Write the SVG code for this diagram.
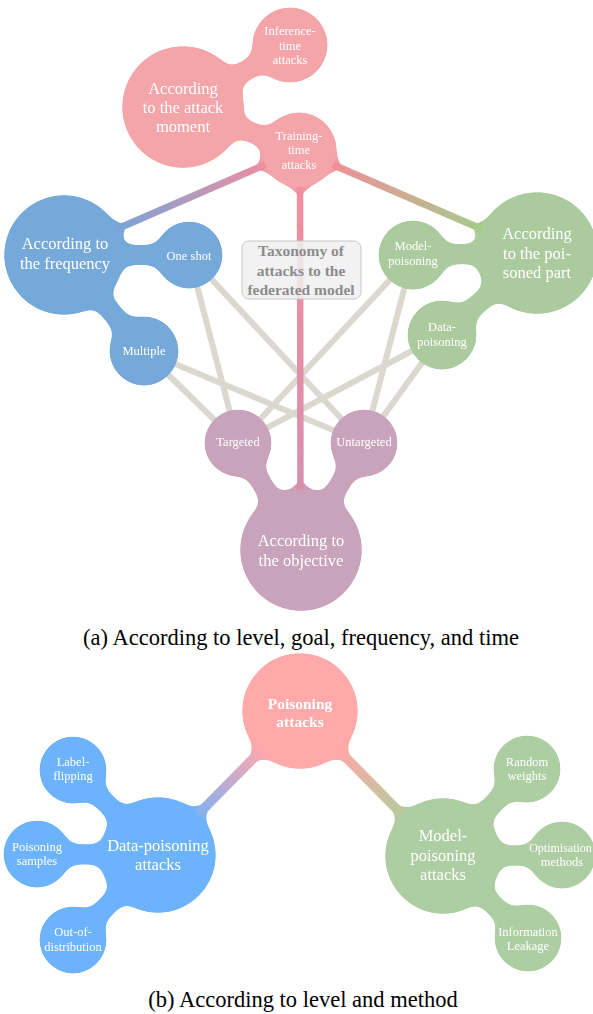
<svg xmlns="http://www.w3.org/2000/svg" width="593" height="1014" viewBox="0 0 593 1014">
<defs>
<style>
.t{font-family:"Liberation Serif","Times New Roman",serif;fill:#fff;text-anchor:middle}
.b{font-size:16.5px}
.s{font-size:12.5px}
.bd{font-weight:bold;font-size:15.5px}
.ttl{font-family:"Liberation Serif","Times New Roman",serif;font-weight:bold;font-size:15.5px;fill:#8c8c8c;text-anchor:middle}
.cap{font-family:"Liberation Serif","Times New Roman",serif;font-size:22.5px;fill:#000;text-anchor:middle}
.gc{stroke:#dbd8d0;stroke-width:6;stroke-linecap:round;fill:none}
.neck{stroke-width:18;stroke-linecap:butt;fill:none}
.stub{stroke-width:7;stroke-linecap:butt;fill:none}
.stub2{stroke-width:9;stroke-linecap:butt;fill:none}
.pk{fill:#f4a5a9}.pkn{stroke:#f4a5a9}
.bl{fill:#74a9da}.bln{stroke:#74a9da}
.gr{fill:#abcb9f}.grn{stroke:#abcb9f}
.pu{fill:#c9a3bb}.pun{stroke:#c9a3bb}
.pk2{fill:#ffa9aa}
.bl2{fill:#6db3fb}.bl2n{stroke:#6db3fb}
.gr2{fill:#adcda2}.gr2n{stroke:#adcda2}
</style>
<filter id="goo" filterUnits="userSpaceOnUse" x="-40" y="-40" width="680" height="1100" color-interpolation-filters="sRGB">
<feGaussianBlur in="SourceGraphic" stdDeviation="7" result="b"/>
<feColorMatrix in="b" type="matrix" values="1 0 0 0 0  0 1 0 0 0  0 0 1 0 0  0 0 0 24 -10" result="g"/>
<feComposite in="SourceGraphic" in2="g" operator="atop"/>
</filter>
<linearGradient id="gTF" gradientUnits="userSpaceOnUse" x1="265" y1="165" x2="118" y2="228">
<stop offset="0" stop-color="#ee8ea3"/><stop offset="1" stop-color="#7aa4d6"/>
</linearGradient>
<linearGradient id="gTP" gradientUnits="userSpaceOnUse" x1="333" y1="165" x2="482" y2="229">
<stop offset="0" stop-color="#ef8f98"/><stop offset="1" stop-color="#a6cb8c"/>
</linearGradient>
<linearGradient id="gTO" gradientUnits="userSpaceOnUse" x1="300" y1="187" x2="300" y2="490">
<stop offset="0" stop-color="#f28f9f"/><stop offset="1" stop-color="#d590ae"/>
</linearGradient>
<linearGradient id="gPD" gradientUnits="userSpaceOnUse" x1="260" y1="752" x2="198" y2="814">
<stop offset="0" stop-color="#f8a8b0"/><stop offset="1" stop-color="#86b0f0"/>
</linearGradient>
<linearGradient id="gPM" gradientUnits="userSpaceOnUse" x1="340" y1="752" x2="403" y2="815">
<stop offset="0" stop-color="#fca9a8"/><stop offset="1" stop-color="#b4cc9c"/>
</linearGradient>
</defs>

<rect width="593" height="1014" fill="#fff"/>

<g id="connectors">
<g id="gray-links" class="gc">
<line x1="189" y1="255" x2="238" y2="443"/>
<line x1="189" y1="255" x2="364" y2="443"/>
<line x1="144" y1="351" x2="238" y2="443"/>
<line x1="144" y1="351" x2="364" y2="443"/>
<line x1="413" y1="255" x2="238" y2="443"/>
<line x1="413" y1="255" x2="364" y2="443"/>
<line x1="442" y1="335" x2="238" y2="443"/>
<line x1="442" y1="335" x2="364" y2="443"/>
</g>
<line id="band-training-frequency" x1="299" y1="150" x2="64" y2="252" stroke="url(#gTF)" stroke-width="7"/>
<line id="band-training-poisoned" x1="299" y1="150" x2="537" y2="253" stroke="url(#gTP)" stroke-width="7"/>
<line id="band-training-objective" x1="300" y1="150" x2="300.5" y2="550" stroke="url(#gTO)" stroke-width="6.5"/>
<line id="band-poisoning-data" x1="300" y1="711" x2="158" y2="855" stroke="url(#gPD)" stroke-width="9.5"/>
<line id="band-poisoning-model" x1="300" y1="711" x2="443" y2="856" stroke="url(#gPM)" stroke-width="9.5"/>
</g>

<g id="cluster-moment" filter="url(#goo)">
<g id="necks-moment" class="neck pkn">
<line x1="183" y1="107" x2="290" y2="45"/>
<line x1="183" y1="107" x2="299" y2="150"/>
</g>
<g id="flares-training" class="stub">
<line x1="269.7" y1="162.7" x2="242.1" y2="174.7" stroke="url(#gTF)"/>
<line x1="328.4" y1="162.7" x2="355.9" y2="174.6" stroke="url(#gTP)"/>
<line x1="300" y1="182" x2="300" y2="212" stroke="url(#gTO)"/>
</g>
<g id="node-moment"><circle class="pk" cx="183" cy="107" r="60"/>
<text class="t b" x="183" y="94">According</text><text class="t b" x="183" y="113">to the attack</text><text class="t b" x="183" y="132">moment</text></g>
<g id="node-inference"><circle class="pk" cx="290" cy="45" r="37"/>
<text class="t s" x="290" y="35">Inference-</text><text class="t s" x="290" y="49.5">time</text><text class="t s" x="290" y="64">attacks</text></g>
<g id="node-training"><circle class="pk" cx="299" cy="150" r="37"/>
<text class="t s" x="299" y="139.5">Training-</text><text class="t s" x="299" y="154">time</text><text class="t s" x="299" y="168.5">attacks</text></g>
</g>

<g id="cluster-frequency" filter="url(#goo)">
<g id="necks-frequency" class="neck bln">
<line x1="64" y1="255" x2="189" y2="255"/>
<line x1="64" y1="255" x2="144" y2="351"/>
</g>
<line class="stub" x1="113.5" y1="230.5" x2="141" y2="218.6" stroke="url(#gTF)"/>
<g id="node-frequency"><circle class="bl" cx="64" cy="255" r="59"/>
<text class="t b" x="65" y="248.5">According to</text><text class="t b" x="65" y="268.5">the frequency</text></g>
<g id="node-oneshot"><circle class="bl" cx="189" cy="255" r="33"/>
<text class="t s" x="189" y="259.5">One shot</text></g>
<g id="node-multiple"><circle class="bl" cx="144" cy="351" r="34"/>
<text class="t s" x="144" y="354.5">Multiple</text></g>
</g>

<g id="cluster-poisoned" filter="url(#goo)">
<g id="necks-poisoned" class="neck grn">
<line x1="537" y1="253" x2="413" y2="255"/>
<line x1="537" y1="253" x2="442" y2="335"/>
</g>
<line class="stub" x1="486.5" y1="231.2" x2="459" y2="219.3" stroke="url(#gTP)"/>
<g id="node-poisoned"><circle class="gr" cx="537" cy="253" r="60"/>
<text class="t b" x="537" y="239">According</text><text class="t b" x="537" y="258.5">to the poi-</text><text class="t b" x="537" y="278">soned part</text></g>
<g id="node-model"><circle class="gr" cx="413" cy="255" r="34"/>
<text class="t s" x="413" y="250">Model-</text><text class="t s" x="413" y="265">poisoning</text></g>
<g id="node-data"><circle class="gr" cx="442" cy="335" r="34"/>
<text class="t s" x="442" y="330.5">Data-</text><text class="t s" x="442" y="346">poisoning</text></g>
</g>

<g id="cluster-objective" filter="url(#goo)">
<g id="necks-objective" class="neck pun">
<line x1="301" y1="550" x2="238" y2="443"/>
<line x1="301" y1="550" x2="364" y2="443"/>
</g>
<line class="stub" x1="300.5" y1="495" x2="300.5" y2="465" stroke="url(#gTO)"/>
<g id="node-objective"><circle class="pu" cx="301" cy="550" r="60"/>
<text class="t b" x="301" y="545.5">According to</text><text class="t b" x="301" y="565.5">the objective</text></g>
<g id="node-targeted"><circle class="pu" cx="238" cy="443" r="33"/>
<text class="t s" x="238" y="446">Targeted</text></g>
<g id="node-untargeted"><circle class="pu" cx="364" cy="443" r="33"/>
<text class="t s" x="364" y="446">Untargeted</text></g>
</g>

<g id="node-taxonomy">
<rect x="242" y="241" width="119" height="58" rx="7" fill="#f0f0f0" fill-opacity="0.85" stroke="#c6c6c6" stroke-width="1"/>
<text class="ttl" x="301" y="256">Taxonomy of</text><text class="ttl" x="301" y="275.5">attacks to the</text><text class="ttl" x="301" y="295">federated model</text>
</g>

<text class="cap" x="301" y="645">(a) According to level, goal, frequency, and time</text>

<g id="cluster-poisoning" filter="url(#goo)">
<g id="flares-poisoning" class="stub2">
<line x1="263.5" y1="748" x2="242.4" y2="769.4" stroke="url(#gPD)"/>
<line x1="336.5" y1="748" x2="357.6" y2="769.4" stroke="url(#gPM)"/>
</g>
<g id="node-poisoning">
<circle class="pk2" cx="300" cy="711" r="57"/>
<text class="t bd" x="300" y="708.5">Poisoning</text><text class="t bd" x="300" y="727">attacks</text>
</g>
</g>

<g id="cluster-datapoisoning" filter="url(#goo)">
<g id="necks-datapoisoning" class="neck bl2n">
<line x1="158" y1="855" x2="73" y2="770"/>
<line x1="158" y1="855" x2="37" y2="854"/>
<line x1="158" y1="855" x2="73" y2="940"/>
</g>
<line class="stub2" x1="194.5" y1="818" x2="215.6" y2="796.6" stroke="url(#gPD)"/>
<g id="node-datapoisoning"><circle class="bl2" cx="158" cy="855" r="57"/>
<text class="t b" x="158" y="851">Data-poisoning</text><text class="t b" x="158" y="870">attacks</text></g>
<g id="node-label"><circle class="bl2" cx="73" cy="770" r="33"/>
<text class="t s" x="73" y="765.5">Label-</text><text class="t s" x="73" y="780">flipping</text></g>
<g id="node-samples"><circle class="bl2" cx="37" cy="854" r="33"/>
<text class="t s" x="37" y="850.5">Poisoning</text><text class="t s" x="37" y="864.5">samples</text></g>
<g id="node-ood"><circle class="bl2" cx="73" cy="940" r="33"/>
<text class="t s" x="73" y="936">Out-of-</text><text class="t s" x="73" y="951">distribution</text></g>
</g>

<g id="cluster-modelpoisoning" filter="url(#goo)">
<g id="necks-modelpoisoning" class="neck gr2n">
<line x1="443" y1="856" x2="527" y2="769"/>
<line x1="443" y1="856" x2="562" y2="855"/>
<line x1="443" y1="856" x2="528" y2="938"/>
</g>
<line class="stub2" x1="406.5" y1="819" x2="385.4" y2="797.6" stroke="url(#gPM)"/>
<g id="node-modelpoisoning"><circle class="gr2" cx="443" cy="856" r="57"/>
<text class="t b" x="443" y="841">Model-</text><text class="t b" x="443" y="860.5">poisoning</text><text class="t b" x="443" y="879.5">attacks</text></g>
<g id="node-random"><circle class="gr2" cx="527" cy="769" r="33"/>
<text class="t s" x="527" y="765.5">Random</text><text class="t s" x="527" y="779.5">weights</text></g>
<g id="node-optim"><circle class="gr2" cx="562" cy="855" r="33"/>
<text class="t s" x="560.5" y="851.5" style="font-size:12px">Optimisation</text><text class="t s" x="562" y="866">methods</text></g>
<g id="node-leak"><circle class="gr2" cx="528" cy="938" r="33"/>
<text class="t s" x="528" y="935.5">Information</text><text class="t s" x="528" y="950">Leakage</text></g>
</g>

<text class="cap" x="303" y="1007">(b) According to level and method</text>
</svg>
